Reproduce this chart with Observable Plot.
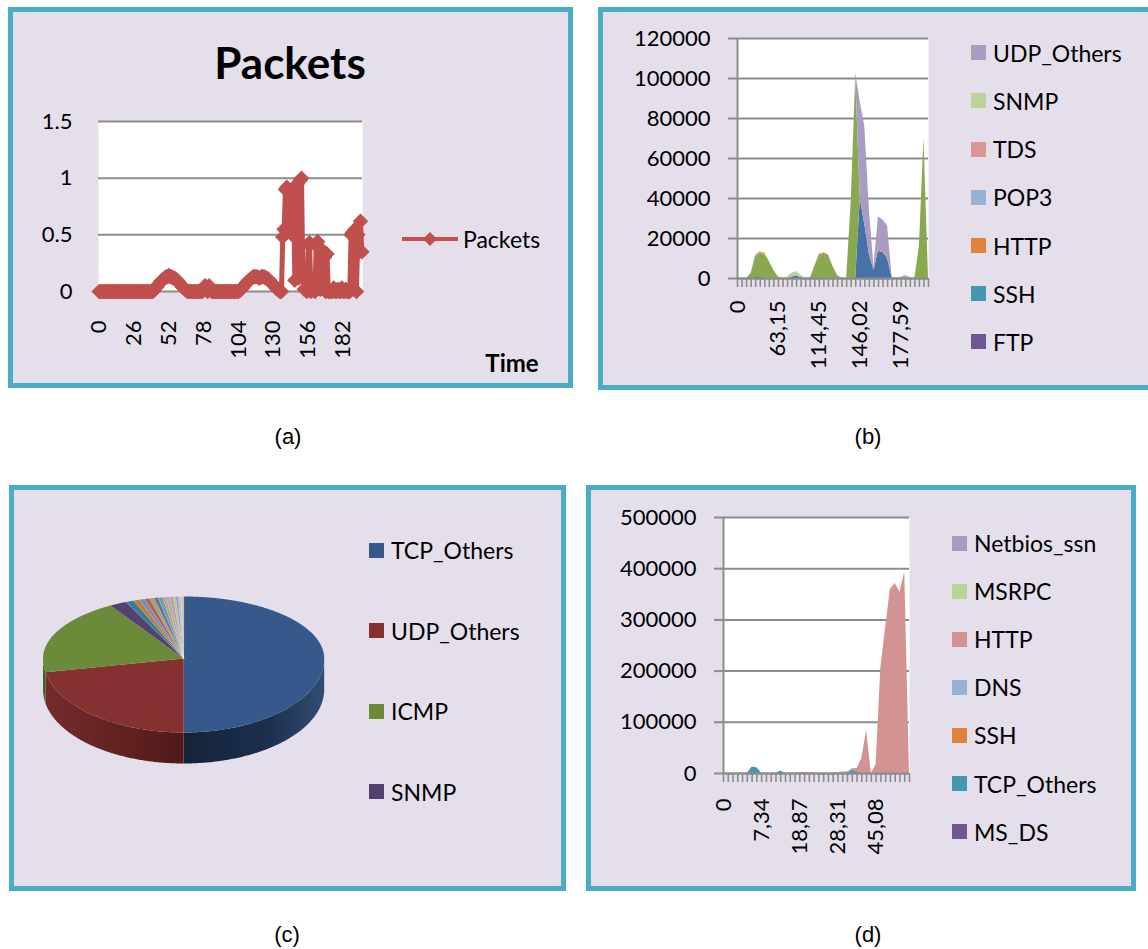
<!DOCTYPE html>
<html><head><meta charset="utf-8">
<script src="https://cdn.jsdelivr.net/npm/d3@7"></script>
<script src="https://cdn.jsdelivr.net/npm/@observablehq/plot@0.6"></script>
<style>
html,body{margin:0;padding:0;background:#fff;}
#root{position:relative;width:1148px;height:949px;overflow:hidden;background:#fff;font-family:Lato,sans-serif;color:#000;}
.panel{position:absolute;box-sizing:border-box;border:5px solid #4bacc6;background:#e5dfec;}
.leg{position:absolute;font-family:Lato,sans-serif;font-size:23px;display:flex;align-items:center;white-space:nowrap;height:30px;}
.sw{display:inline-block;width:15px;height:15px;margin-right:7px;}
</style></head>
<body><div id="root"></div>
<script>
// ---------------- DATA ----------------
// (a) Packets over Time (category index 0..196)
const packets = [
0,0,0,0,0,0,0,0,0,0, 0,0,0,0,0,0,0,0,0,0, 0,0,0,0,0,0,0,0,0,0, 0,0,0,0,0,0,0,0,0,0, 0,
0.01,0.03,0.04,0.06,0.07,0.09,0.1,0.11,0.12,0.13,0.13,0.14,0.13,0.13,0.12,0.12,0.11,0.1,0.09,0.07,0.06,0.04,0.03,0.02,0.01,0,
0,0,0,0,0,0,0,0,0,0,0,
0.03,0.05,0.02,0,0.05,0.03,0,
0,0,0,0,0,0,0,0,0,0,0,0,0,0,0,0,0,0,0,
0,0.01,0.02,0.03,0.05,0.06,0.08,0.09,0.1,0.11,0.12,0.13,0.13,0.13,0.13,0.12,0.12,0.13,0.13,0.13,0.12,0.12,0.11,0.1,0.08,0.07,0.06,0.05,0.03,0.02,0.01,0,
0,
0.48,0.55,0.9,0.92,0.9,0.56,0.55,0.5,0.88,0.1,0.9,0.95,0.12,0.98,1.0,0.14,0.02,0.15,0,0.42,0.43,0,0.05,0.02,0,0.42,0.44,0.38,0.02,0.35,0.36,0.3,0,0.33,
0,0,0,0,0.03,0,0,0.02,0,0,0.03,0,0,0.02,0,0,
0,0.5,0.52,0.02,0.55,0,0.5,0.35,0.62,0.35
];
const aXTicks = [0,26,52,78,104,130,156,182];
const aYTicks = [0,0.5,1,1.5];

// (b) stacked area, 43 time categories
const bXLabelIdx = [0,9,18,27,36];
const bXLabels = ["0","63,15","114,45","146,02","177,59"];
const bYTicks = [0,20000,40000,60000,80000,100000,120000];
const bTCP_Others = [0,0,0,0,500,500,300,0,0,0, 0,0,800,1300,500,0,0,0,0,0, 0,0,0,0,0,0,0,40000,27000,12000, 4000,13500,13000,10000,300,0,0,0,0,0, 0,0,0];
const bICMP = [0,0,0,2500,10500,11500,11500,8500,4000,800, 0,0,0,0,0,0,0,6000,11500,12000, 11500,6000,1500,0,0,38000,100000,0,0,0, 0,0,0,0,0,0,0,0,0,0, 16000,70000,0];
const bFTP = [0,0,0,0,0,0,0,0,0,0, 0,0,0,0,0,0,0,0,0,0, 0,0,0,0,0,0,0,0,0,0, 0,0,0,0,0,0,0,0,0,0, 0,0,0];
const bSSH = [0,0,0,0,300,0,0,0,0,0, 0,0,0,0,0,0,0,0,0,0, 0,0,0,0,0,0,0,0,0,0, 0,0,0,0,0,0,0,0,0,0, 0,0,0];
const bHTTP = [0,0,0,0,0,900,800,0,0,0, 0,0,0,0,0,0,0,0,500,700, 400,0,0,0,0,0,0,0,0,0, 0,600,600,400,0,0,300,0,0,0, 0,0,0];
const bPOP3 = [0,0,0,0,400,500,0,0,0,0, 0,0,0,0,0,0,0,300,300,0, 0,0,0,0,0,0,0,0,0,0, 0,0,0,0,0,0,500,1200,500,0, 0,0,0];
const bTDS = [0,0,0,0,0,0,0,0,0,0, 0,0,0,0,0,0,0,0,0,0, 0,0,0,0,0,0,0,0,0,0, 0,0,0,0,0,300,0,300,0,0, 0,0,0];
const bSNMP = [0,0,0,0,0,0,0,0,0,0, 0,800,2000,2200,1000,0,0,0,0,0, 0,0,0,0,0,0,0,0,0,0, 0,0,0,0,0,0,0,0,0,0, 0,0,0];
const bUDP_Others = [0,0,0,0,0,0,0,0,0,0, 0,0,0,0,0,0,0,0,0,0, 0,0,0,0,0,0,2500,48000,49000,22500, 1500,16800,15500,16000,300,0,0,0,0,0, 0,0,0];
const bSeries = ["TCP_Others","ICMP","FTP","SSH","HTTP","POP3","TDS","SNMP","UDP_Others"];
const bArrays = [bTCP_Others,bICMP,bFTP,bSSH,bHTTP,bPOP3,bTDS,bSNMP,bUDP_Others];
const bLegend = ["UDP_Others","SNMP","TDS","POP3","HTTP","SSH","FTP"];

// (c) pie shares (%)
const cNames = ["TCP_Others","UDP_Others","ICMP","SNMP","p5","p6","p7","p8","p9","p10","p11","p12","p13","p14","p15","p16","p17","p18"];
const cShares = [50,22,19.3,2,0.9,0.7,0.6,0.6,0.5,0.5,0.5,0.4,0.4,0.4,0.3,0.3,0.3,0.3];
const cLegend = ["TCP_Others","UDP_Others","ICMP","SNMP"];

// (d) stacked area, 40 time categories
const dXLabelIdx = [0,8,16,24,32];
const dXLabels = ["0","7,34","18,87","28,31","45,08"];
const dYTicks = [0,100000,200000,300000,400000,500000];
const dMS_DS = [0,0,0,0,0,0,0,0,0,0, 0,0,0,0,0,0,0,0,0,0, 0,0,0,0,0,0,0,0,0,0, 0,0,0,0,0,0,0,0,0,0];
const dTCP_Others = [0,0,0,0,0,0,12500,11000,0,0, 0,0,5000,0,0,0,0,0,0,0, 0,0,0,0,0,0,1000,6500,4000,0, 0,0,0,0,0,0,0,0,0,0];
const dSSH = [0,0,0,0,0,0,0,0,0,0, 0,0,0,0,0,0,1000,1500,1200,0, 0,0,0,0,0,0,0,1500,0,0, 0,0,0,0,0,0,0,0,0,0];
const dDNS = [0,0,0,0,0,0,0,0,0,0, 0,0,0,0,0,0,0,500,0,0, 0,0,0,0,0,0,0,0,0,0, 0,0,0,0,0,0,0,0,0,0];
const dHTTP = [0,0,0,0,0,0,0,0,0,0, 0,0,0,0,0,0,0,0,0,0, 0,0,0,0,2000,3000,2000,1500,6000,29000, 84000,0,17000,207000,285000,360000,371000,354000,393000,0];
const dMSRPC = [0,0,0,0,0,0,0,0,0,0, 0,0,0,0,0,0,0,0,0,0, 0,0,0,0,0,0,0,0,0,0, 0,0,0,0,0,0,0,0,0,0];
const dNetbios_ssn = [0,0,0,0,0,0,0,0,0,0, 0,0,0,0,0,0,0,0,0,0, 0,0,0,0,0,0,0,0,0,0, 0,0,0,0,0,0,0,0,0,0];
const dSeries = ["MS_DS","TCP_Others","SSH","DNS","HTTP","MSRPC","Netbios_ssn"];
const dArrays = [dMS_DS,dTCP_Others,dSSH,dDNS,dHTTP,dMSRPC,dNetbios_ssn];
const dLegend = ["Netbios_ssn","MSRPC","HTTP","DNS","SSH","TCP_Others","MS_DS"];

// ---------------- STYLES ----------------
const bColors = {TCP_Others:"#4672a8",ICMP:"#89a94e",FTP:"#6f5693",SSH:"#4298ae",HTTP:"#e0843c",POP3:"#95b3d7",TDS:"#d99694",SNMP:"#bcd29a",UDP_Others:"#a99bc2"};
const dColors = {MS_DS:"#6f5693",TCP_Others:"#4298ae",SSH:"#e0843c",DNS:"#95b3d7",HTTP:"#d39392",MSRPC:"#bcd29a",Netbios_ssn:"#a99bbd"};
const cTop = ["#34598a","#84312f","#6b8b3b","#54416f","#2f8199","#c7792d","#6f8fbf","#b3615e","#93ab66","#7d6a9c","#5aa5bb","#d7995c","#9ab0d2","#c99a99","#b2c78d","#a796bf","#9fcbd9","#e6c29c"];
const cSide = ["#1d3050","#5f2321"];
const gridColor = "#8c8c8c";

// ---------------- LAYOUT HELPERS ----------------
const root = document.getElementById("root");
function box(l,t,w,h){const d=document.createElement("div");d.className="panel";d.style.cssText+=`left:${l}px;top:${t}px;width:${w}px;height:${h}px;`;root.appendChild(d);}
function text(str,x,y,css){const d=document.createElement("div");d.textContent=str;d.style.cssText=`position:absolute;white-space:nowrap;transform:translate(-50%,-50%);left:${x}px;top:${y}px;line-height:1;`+css;root.appendChild(d);}
function legendRow(label,color,x,y){const d=document.createElement("div");d.className="leg";d.style.left=x+"px";d.style.top=(y-15)+"px";d.innerHTML=`<span class="sw" style="background:${color}"></span><span>${label}</span>`;root.appendChild(d);}
function put(svg,l,t){const w=document.createElement("div");w.style.cssText=`position:absolute;left:${l}px;top:${t}px;`;w.appendChild(svg);root.appendChild(w);return svg;}
const baseStyle = {background:"none",fontFamily:"Lato, sans-serif",fontSize:"22px",color:"#000",overflow:"visible"};

box(8,7,565,381);
box(598,7,560,383);
box(9,485,557,406);
box(586,485,550,406);

// ---------------- (a) ----------------
const aData = packets.map((v,i)=>({t:i,v}));
put(Plot.plot({
  width:360,height:280,marginLeft:78,marginTop:21,marginRight:18,marginBottom:89,
  style:baseStyle,
  x:{domain:[-0.5,packets.length-0.5]},
  y:{domain:[0,1.5]},
  marks:[
    Plot.frame({fill:"white",stroke:"none"}),
    Plot.gridY(aYTicks,{stroke:gridColor,strokeOpacity:1,strokeWidth:2}),
    Plot.axisY(aYTicks,{tickSize:0,tickPadding:26,tickFormat:d=>String(d),label:null,fontSize:22}),
    Plot.axisX(aXTicks,{tickSize:0,tickPadding:29,tickRotate:-90,tickFormat:d=>String(d),label:null,fontSize:22}),
    Plot.line(aData,{x:"t",y:"v",stroke:"#c0504d",strokeWidth:5}),
    Plot.dot(aData,{x:"t",y:"v",symbol:"diamond2",r:7,fill:"#c0504d",stroke:"none"})
  ]
}),20,100);
text("Packets",290,62,"font-weight:700;font-size:44px;");
text("Time",512,363,"font-weight:700;font-size:24px;");
{
  const d=document.createElement("div");
  d.style.cssText="position:absolute;left:400px;top:224px;display:flex;align-items:center;height:30px;font-size:23px;white-space:nowrap;";
  d.innerHTML=`<svg width="60" height="16" style="margin-right:3px"><line x1="2" y1="8" x2="58" y2="8" stroke="#c0504d" stroke-width="4"/><polygon points="30,1 37,8 30,15 23,8" fill="#c0504d"/></svg><span>Packets</span>`;
  root.appendChild(d);
}

// ---------------- stacked area helper ----------------
function stacked(series,arrays,colors,n,yTicks,yMax,labelIdx,labels,dims,left,top,labelPad){
  const long=[];
  series.forEach((s,k)=>arrays[k].forEach((v,i)=>long.push({i,s,v})));
  const labelMap=new Map(labelIdx.map((d,k)=>[d,labels[k]]));
  return put(Plot.plot({
    ...dims,style:baseStyle,
    x:{domain:[0,n-1]},
    y:{domain:[0,yMax]},
    color:{domain:series,range:series.map(s=>colors[s])},
    marks:[
      Plot.frame({fill:"white",stroke:"none"}),
      Plot.gridY(yTicks,{stroke:gridColor,strokeOpacity:1,strokeWidth:2}),
      Plot.areaY(long,{x:"i",y:"v",z:"s",fill:"s",order:series}),
      Plot.axisY(yTicks,{tickSize:9,fill:"none",stroke:gridColor,strokeWidth:2,label:null}),
      Plot.axisY(yTicks,{tickSize:0,tickPadding:27,tickFormat:d=>String(d),label:null,fontSize:22}),
      Plot.ruleX([0],{stroke:gridColor,strokeWidth:2}),
      Plot.ruleY([0],{stroke:gridColor,strokeWidth:2}),
      Plot.axisX(d3.range(n),{tickSize:9,fill:"none",stroke:gridColor,strokeWidth:1.6,label:null}),
      Plot.axisX(labelIdx,{tickSize:0,tickPadding:labelPad,tickRotate:-90,tickFormat:d=>labelMap.get(d),label:null,fontSize:22})
    ]
  }),left,top);
}

// ---------------- (b) ----------------
stacked(bSeries,bArrays,bColors,bICMP.length,bYTicks,120000,bXLabelIdx,bXLabels,
  {width:330,height:360,marginLeft:127,marginTop:18,marginRight:12,marginBottom:102},610,20,22);
bLegend.forEach((s,k)=>legendRow(s,bColors[s],971,52.7+48.2*k));

// ---------------- (d) ----------------
stacked(dSeries,dArrays,dColors,dHTTP.length,dYTicks,500000,dXLabelIdx,dXLabels,
  {width:330,height:380,marginLeft:127,marginTop:22,marginRight:17,marginBottom:102},596,495,25);
dLegend.forEach((s,k)=>legendRow(s,dColors[s],952,543+48.1*k));

// ---------------- (c) 3D pie ----------------
{
  const b2 = 74, b1 = 62;              // lower / upper half radii (px) -> perspective
  const persp = b1/b2;                 // upper half compressed
  const depth = 31/b2;                 // thickness in lower-half units
  const arcs = d3.pie().sort(null).value(d=>d)(cShares);
  const marks = [];
  const step = Math.PI/360;
  const sample=(a0,a1)=>{const pts=[];const m=Math.max(2,Math.ceil((a1-a0)/step));for(let j=0;j<=m;j++)pts.push(a0+(a1-a0)*j/m);return pts;};
  const P=(t,dz=0)=>{const c=Math.cos(t);return {x:Math.sin(t),y:(c>0?c*persp:c)-dz};};
  arcs.forEach((a,k)=>{
    const s0=Math.max(a.startAngle,Math.PI/2), s1=Math.min(a.endAngle,3*Math.PI/2);
    if (s1<=s0) return;
    const ts=sample(s0,s1);
    const poly=[...ts.map(t=>P(t)),...ts.slice().reverse().map(t=>P(t,depth))];
    const fill = k<2?cSide[k]:d3.color(cTop[k]).darker(1.1).formatHex();
    marks.push(Plot.line(poly,{x:"x",y:"y",fill,stroke:"none",curve:"linear-closed",className:"side"+k}));
  });
  arcs.forEach((a,k)=>{
    const ts=sample(a.startAngle,a.endAngle);
    const poly=[{x:0,y:0},...ts.map(t=>P(t))];
    marks.push(Plot.line(poly,{x:"x",y:"y",fill:cTop[k],stroke:k>3?"#ffffff":"none",strokeOpacity:0.3,strokeWidth:0.5,curve:"linear-closed"}));
  });
  const svg = Plot.plot({
    width:340,height:300,margin:0,style:baseStyle,
    x:{domain:[-1,1],range:[28.5,309.7],axis:null},
    y:{domain:[-1-depth,persp],range:[158+b2*(1+depth),158-b1],axis:null},
    marks
  });
  // gradients on the two large side walls
  const ns="http://www.w3.org/2000/svg";
  const defs=document.createElementNS(ns,"defs");
  defs.innerHTML=`<linearGradient id="sideBlue" x1="0" x2="1" y1="0" y2="0"><stop offset="0" stop-color="#15233a"/><stop offset="0.6" stop-color="#1c2f4b"/><stop offset="1" stop-color="#314d74"/></linearGradient>
  <linearGradient id="sideRed" x1="0" x2="1" y1="0" y2="0"><stop offset="0" stop-color="#742c2a"/><stop offset="1" stop-color="#4f1a19"/></linearGradient>`;
  svg.insertBefore(defs,svg.firstChild);
  svg.querySelectorAll(".side0 path").forEach(p=>p.setAttribute("fill","url(#sideBlue)"));
  svg.querySelectorAll(".side1 path").forEach(p=>p.setAttribute("fill","url(#sideRed)"));
  put(svg,14,500);
  cLegend.forEach((s,k)=>legendRow(s,cTop[k],369,550+80.6*k));
}

// ---------------- captions ----------------
const capCss="font-family:'Liberation Sans',Arial,sans-serif;font-size:22px;";
text("(a)",288,437,capCss);
text("(b)",868,437,capCss);
text("(c)",287,935,capCss);
text("(d)",868,935,capCss);
</script></body></html>
